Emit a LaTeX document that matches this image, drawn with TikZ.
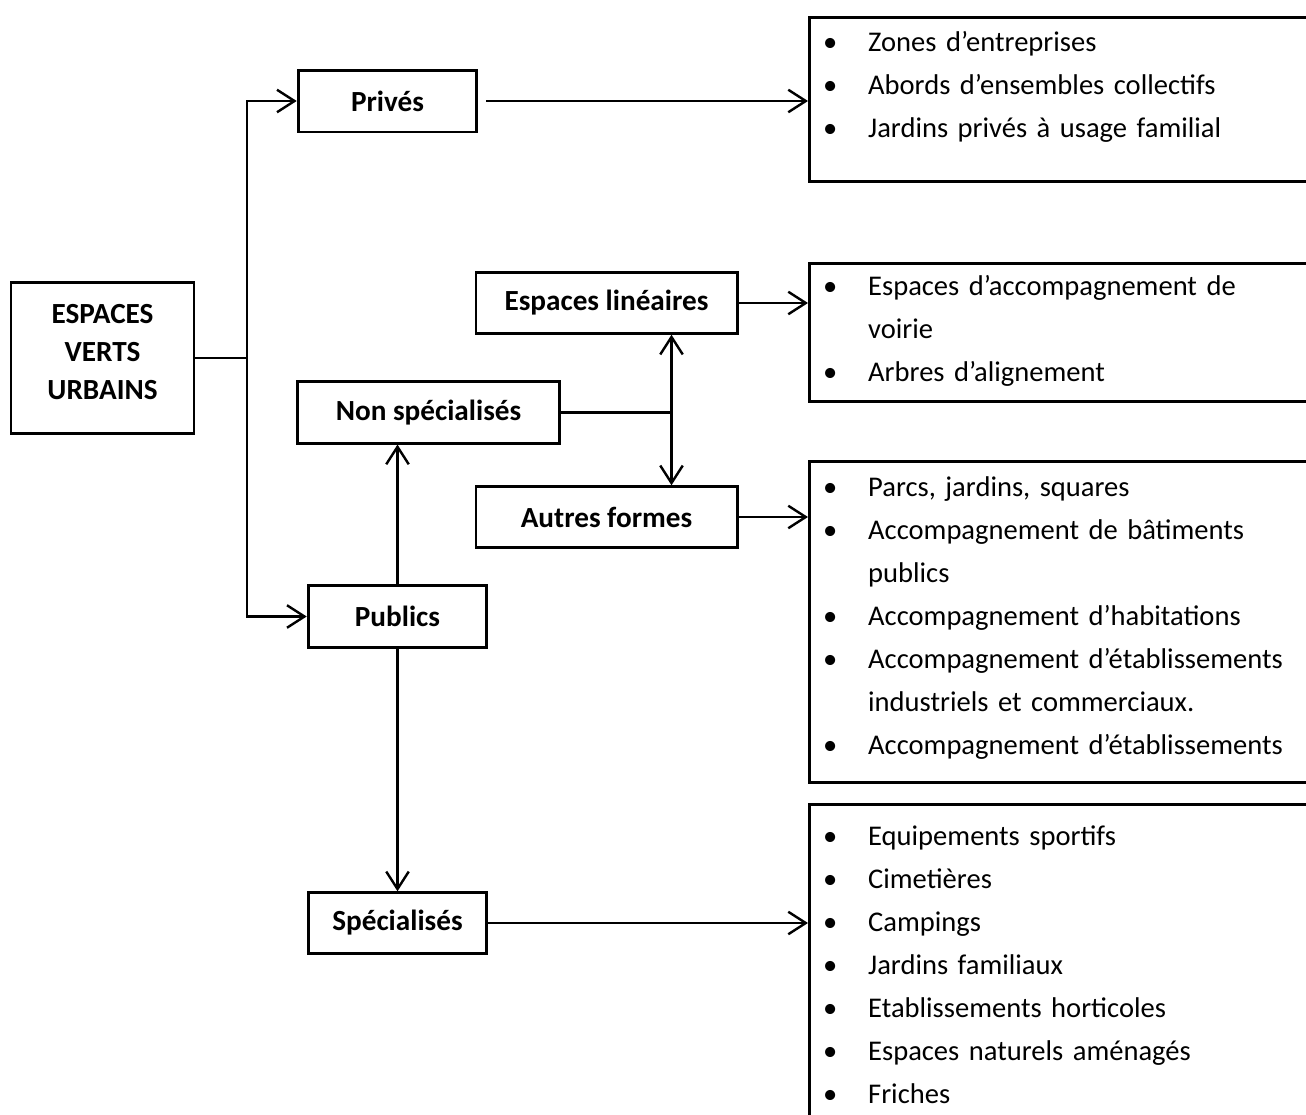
\documentclass[tikz,border=0pt]{standalone}
\usepackage{fontspec}
\setmainfont{Carlito}
\usetikzlibrary{arrows.meta,positioning}
\tikzset{every picture/.style={>={Straight Barb[length=2.8mm,width=3.6mm]}},
  cat/.style={draw, rectangle, line width=1.3pt, inner sep=0pt, align=center,
    font=\fontsize{13.3}{17.3}\selectfont\bfseries},
  listbox/.style={draw, rectangle, line width=1.3pt, anchor=north west, minimum width=12cm},
  items/.style={anchor=base west, inner sep=0pt, text width=8cm, align=left,
    font=\fontsize{13}{19.6}\selectfont}}
\newcommand{\itm}{\makebox[0.72cm][l]{\textbullet}}
\newcommand{\ind}{\hspace*{0.72cm}}

\begin{document}
\begin{tikzpicture}[x=0.016cm, y=-0.016cm, line width=1.1pt]
  \clip (0,0) rectangle (1306,1115);
  % categories
  \node[cat, minimum width=2.93cm, minimum height=2.43cm] (root) at (102.5,358) {ESPACES\\VERTS\\URBAINS\\[-0.42cm]};
  \node[cat, minimum width=2.86cm, minimum height=0.99cm] (prives) at (387.5,101) {Privés};
  \node[cat, minimum width=4.18cm, minimum height=0.97cm] (lin) at (606.5,303) {Espaces linéaires};
  \node[cat, minimum width=4.18cm, minimum height=0.98cm] (nonspec) at (428.5,412.5) {Non spécialisés};
  \node[cat, minimum width=4.18cm, minimum height=0.97cm] (autres) at (606.5,517) {Autres formes};
  \node[cat, minimum width=2.86cm, minimum height=1.0cm] (publics) at (397.5,616.5) {Publics};
  \node[cat, minimum width=2.86cm, minimum height=0.97cm] (spec) at (397.5,923) {Spécialisés};
  % lists
  \node[listbox, minimum height=2.62cm] (l1) at (808,16) {};
  \node[listbox, minimum height=2.21cm] (l2) at (808,262) {};
  \node[listbox, minimum height=5.14cm] (l3) at (808,460) {};
  \node[listbox, minimum height=6cm] (l4) at (808,803) {};
  \node[items] (t1) at (822,51) {\itm Zones d’entreprises\\\itm Abords d’ensembles collectifs\\\itm Jardins privés à usage familial};
  \node[items] (t2) at (822,295) {\itm Espaces d’accompagnement de\\\ind voirie\\\itm Arbres d’alignement};
  \node[items] (t3) at (822,496) {\itm Parcs, jardins, squares\\\itm Accompagnement de bâtiments\\\ind publics\\\itm Accompagnement d’habitations\\\itm Accompagnement d’établissements\\\ind industriels et commerciaux.\\\itm Accompagnement d’établissements};
  \node[items] (t4) at (822,845) {\itm Equipements sportifs\\\itm Cimetières\\\itm Campings\\\itm Jardins familiaux\\\itm Etablissements horticoles\\\itm Espaces naturels aménagés\\\itm Friches};
  % connectors
  \coordinate (split) at (247,358);
  \draw (root) -- (split);
  \draw[->] (split) |- (prives);
  \draw[->] (split) |- (publics);
  \draw[->, shorten <=0.13cm] (prives.east) -- (prives.east -| l1.west);
  \draw[->] (lin) -- (lin -| l2.west);
  \path (nonspec.east) ++(111,0) coordinate (fork);
  \draw (nonspec) -- (fork);
  \draw[->] (fork) -- (fork |- lin.south);
  \draw[->] (fork) -- (fork |- autres.north);
  \draw[->] (autres) -- (autres -| l3.west);
  \draw[->] (publics) -- (publics |- nonspec.south);
  \draw[->] (publics) -- (spec);
  \draw[->] (spec) -- (spec -| l4.west);
\end{tikzpicture}
\end{document}
